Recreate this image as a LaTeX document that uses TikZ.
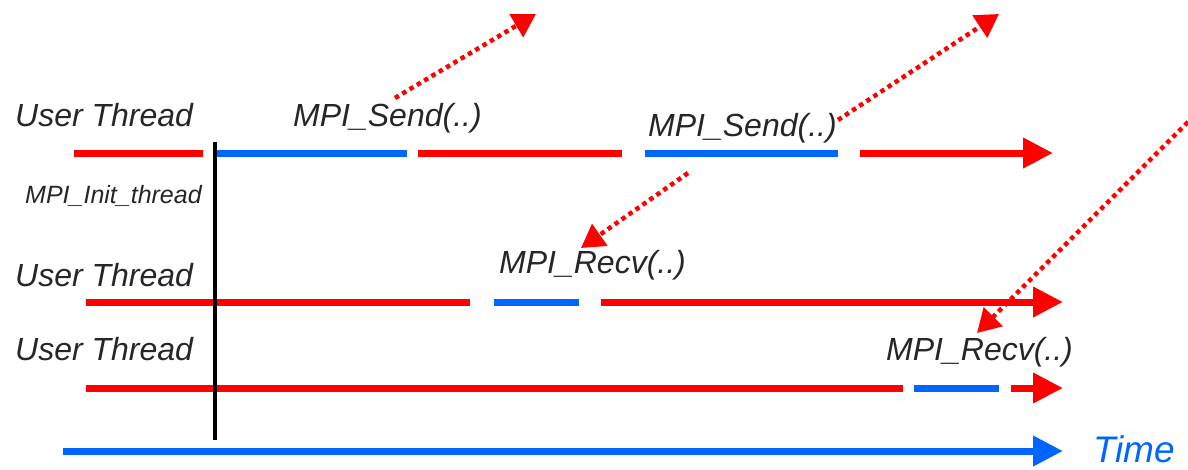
\documentclass[tikz,border=0pt]{standalone}
\usepackage{fontspec}
\setmainfont{Liberation Sans}
\usetikzlibrary{arrows.meta}
\definecolor{tred}{RGB}{255,0,0}
\definecolor{tblue}{RGB}{0,102,255}
\begin{document}
\begin{tikzpicture}[x=1pt,y=-1pt,
  lbl/.style={anchor=base west,inner sep=0pt,font=\fontsize{32}{38}\selectfont\itshape,text=black!85},
  smalllbl/.style={anchor=base west,inner sep=0pt,font=\fontsize{25}{29}\selectfont\itshape,text=black!85},
  timelbl/.style={anchor=base west,inner sep=0pt,text depth=0pt,font=\fontsize{37}{42}\selectfont\itshape,text=tblue},
  redseg/.style={draw=tred,line width=7pt,line cap=butt},
  blueseg/.style={draw=tblue,line width=7pt,line cap=butt},
  redarrow/.style={redseg,-{Triangle[length=30pt,width=29pt]}},
  bluearrow/.style={blueseg,-{Triangle[length=30pt,width=29pt]}},
  msg/.style={draw=tred,line width=4.5pt,dash pattern=on 4.5pt off 4pt,-{Triangle[length=23pt,width=26pt]}},
  barrier/.style={draw=black,line width=4pt}]
\useasboundingbox (0,0) rectangle (1188,469);

% labels
\node[lbl] (ut1) at (15,126) {User Thread};
\node[lbl] (ut2) at (15,286) {User Thread};
\node[lbl] (ut3) at (15,360) {User Thread};
\node[smalllbl] (init) at (25,203) {MPI\_Init\_thread};
\node[lbl] (send1) at (293,126) {MPI\_Send(..)};
\node[lbl] (send2) at (648,136) {MPI\_Send(..)};
\node[lbl] (recv1) at (499,273) {MPI\_Recv(..)};
\node[lbl] (recv2) at (886,360) {MPI\_Recv(..)};
\node[timelbl] (time) at (1093,462) {Time};

% thread 1
\coordinate (a1) at (74,153);   \coordinate (a2) at (203,153);
\coordinate (a3) at (217,153);  \coordinate (a4) at (407,153);
\coordinate (a5) at (418,153);  \coordinate (a6) at (622,153);
\coordinate (a7) at (645,153);  \coordinate (a8) at (838,153);
\coordinate (a9) at (860,153);  \coordinate (a10) at (1053,153);
\draw[redseg] (a1) -- (a2);
\draw[blueseg] (a3) -- (a4);
\draw[redseg] (a5) -- (a6);
\draw[blueseg] (a7) -- (a8);
\draw[redarrow] (a9) -- (a10);

% thread 2
\coordinate (b1) at (86,302);   \coordinate (b2) at (470,302);
\coordinate (b3) at (494,302);  \coordinate (b4) at (579,302);
\coordinate (b5) at (601,302);  \coordinate (b6) at (1063,302);
\draw[redseg] (b1) -- (b2);
\draw[blueseg] (b3) -- (b4);
\draw[redarrow] (b5) -- (b6);

% thread 3
\coordinate (c1) at (86,388);   \coordinate (c2) at (903,388);
\coordinate (c3) at (914,388);  \coordinate (c4) at (999,388);
\coordinate (c5) at (1011,388); \coordinate (c6) at (1063,388);
\draw[redseg] (c1) -- (c2);
\draw[blueseg] (c3) -- (c4);
\draw[redarrow] (c5) -- (c6);

% time axis
\coordinate (t1) at (63,451); \coordinate (t2) at (1063,451);
\draw[bluearrow] (t1) -- (t2);

% init barrier
\coordinate (i1) at (214.5,142); \coordinate (i2) at (214.5,440);
\draw[barrier] (i1) -- (i2);

% messages
\coordinate (m1s) at (395,98);   \coordinate (m1e) at (536,14);
\coordinate (m2s) at (838,120);  \coordinate (m2e) at (999,14);
\coordinate (m3s) at (688,173);  \coordinate (m3e) at (581,248);
\coordinate (m4s) at (1188,122); \coordinate (m4e) at (977,333);
\draw[msg] (m1s) -- (m1e);
\draw[msg] (m2s) -- (m2e);
\draw[msg] (m3s) -- (m3e);
\draw[msg] (m4s) -- (m4e);
\end{tikzpicture}
\end{document}
